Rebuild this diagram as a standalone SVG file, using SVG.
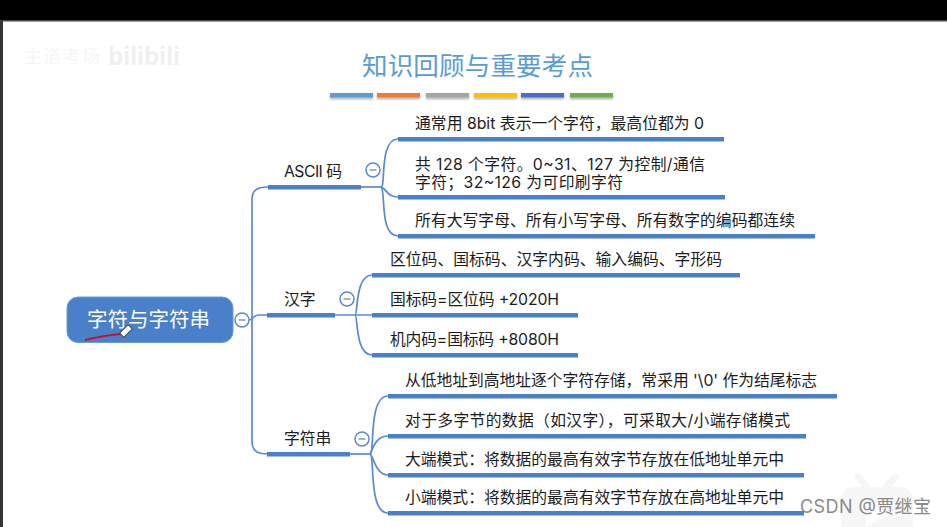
<svg xmlns="http://www.w3.org/2000/svg" width="947" height="527" viewBox="0 0 947 527">
<defs>
<filter id="sh" x="-10%" y="-50%" width="120%" height="250%"><feDropShadow dx="0" dy="1.5" stdDeviation="1" flood-color="#000" flood-opacity="0.35"/></filter>
</defs>
<style>
text{font-family:"Inter","Noto Sans CJK SC","Liberation Sans",sans-serif;fill:#1c1c1c}
.leaf{font-size:15.800px}
.lab{font-size:15.800px}
.bar{fill:#4a7fc9}
.conn{fill:none;stroke:#5a8bd0;stroke-width:1.7}
.tog circle{fill:#fff;stroke:#5a8bd0;stroke-width:1.5}
.tog line{stroke:#8a9ab0;stroke-width:1.5}
.tb{filter:url(#sh)}
</style>
<rect width="947" height="527" fill="#fff"/>
<rect x="0" y="0" width="947" height="20" fill="#000"/>
<rect x="0" y="20" width="3" height="507" fill="#333"/>
<rect x="0" y="20" width="947" height="1.500" fill="#444"/>
<g id="watermark">
<text x="24" y="63" font-size="18" textLength="76" style="fill:#f6f6f6">主道考场</text>
<text x="108" y="65" font-size="26" font-weight="700" textLength="72" lengthAdjust="spacingAndGlyphs" style="fill:#f0f0f0;font-family:'Liberation Sans',sans-serif">bilibili</text>
<path d="M858 477 L866 486 M895 477 L887 486" stroke="#f6f6f6" stroke-width="7" stroke-linecap="round" fill="none"/>
<rect x="841" y="487" width="72" height="50" rx="13" fill="#f7f7f7"/>
<path d="M866 502 L888 514 L866 527 Z" fill="#fff"/>
</g>
<g id="title">
<text x="362" y="75" font-size="25.500" textLength="231" style="fill:#5b9bd5">知识回顾与重要考点</text>
<rect class="tb" x="330" y="93" width="43" height="4.500" fill="#5b9bd5"/>
<rect class="tb" x="377" y="93" width="43" height="4.500" fill="#ed7d31"/>
<rect class="tb" x="426" y="93" width="43" height="4.500" fill="#a5a5a5"/>
<rect class="tb" x="474" y="93" width="43" height="4.500" fill="#ffc000"/>
<rect class="tb" x="521" y="93" width="43" height="4.500" fill="#4472c4"/>
<rect class="tb" x="570" y="93" width="43" height="4.500" fill="#70ad47"/>
</g>
<g id="connectors">
<path class="conn" d="M249 320 C253 320 253 315 259 315 H267"/>
<path class="conn" d="M268 187 C256 187 252 191 252 200 V441 C252 450 256 454 268 454"/>
<path class="conn" d="M361 187 H381"/>
<path class="conn" d="M381 187 C386 187 379 139 398 139"/>
<path class="conn" d="M381 187 C388 190 387 197 398 197"/>
<path class="conn" d="M381 187 C386 190 379 236 398 236"/>
<path class="conn" d="M335 315 H372"/>
<path class="conn" d="M355 315 C358 315 355 275 372 275"/>
<path class="conn" d="M355 315 C358 315 355 355 372 355"/>
<path class="conn" d="M350 454 H370"/>
<path class="conn" d="M370 454 C375 454 368 396 388 396"/>
<path class="conn" d="M370 454 C373 448 376 436 388 436"/>
<path class="conn" d="M370 454 C374 458 376 475 388 475"/>
<path class="conn" d="M370 454 C375 454 368 513 388 513"/>
</g>
<g id="root">
<rect x="67" y="297" width="166" height="45.500" rx="11" fill="#4a7fc9" stroke="#6b9bdc" stroke-width="1"/>
<text x="87" y="327" font-size="20.500" textLength="123" style="fill:#fff">字符与字符串</text>
<path d="M85 340 C97 337 108 335 121 334" fill="none" stroke="#c5102a" stroke-width="2"/>
<g id="pencil" transform="translate(126 331) rotate(-45)"><rect x="-6" y="-3" width="12" height="6" rx="1" fill="#fff" stroke="#444" stroke-width="1"/></g>
<g class="tog"><circle cx="242" cy="320" r="7"/><line x1="238.500" y1="320" x2="245.500" y2="320"/></g>
</g>
<g id="ascii">
<text class="lab" x="284" y="177" textLength="58">ASCII 码</text>
<rect class="bar" x="268" y="185" width="93" height="4.500"/>
<g class="tog"><circle cx="373" cy="170" r="7"/><line x1="369.500" y1="170" x2="376.500" y2="170"/></g>
</g>
<g id="ascii-1">
<text class="leaf" x="415" y="129" textLength="289">通常用 8bit 表示一个字符，最高位都为 0</text>
<rect class="bar" x="398" y="137" width="326" height="4.500"/>
</g>
<g id="ascii-2">
<text class="leaf" x="415" y="170" textLength="290">共 128 个字符。0~31、127 为控制/通信</text>
<text class="leaf" x="415" y="188" textLength="208">字符；32~126 为可印刷字符</text>
<rect class="bar" x="398" y="195" width="327" height="4.500"/>
</g>
<g id="ascii-3">
<text class="leaf" x="415" y="226" textLength="380">所有大写字母、所有小写字母、所有数字的编码都连续</text>
<rect class="bar" x="398" y="234" width="417" height="4.500"/>
</g>
<g id="hanzi">
<text class="lab" x="284" y="305">汉字</text>
<rect class="bar" x="267" y="313" width="68" height="4.500"/>
<g class="tog"><circle cx="347" cy="299" r="7"/><line x1="343.500" y1="299" x2="350.500" y2="299"/></g>
</g>
<g id="hanzi-1">
<text class="leaf" x="390" y="265" textLength="332">区位码、国标码、汉字内码、输入编码、字形码</text>
<rect class="bar" x="372" y="273" width="368" height="4.500"/>
</g>
<g id="hanzi-2">
<text class="leaf" x="390" y="305" textLength="169">国标码=区位码 +2020H</text>
<rect class="bar" x="372" y="313" width="206" height="4.500"/>
</g>
<g id="hanzi-3">
<text class="leaf" x="390" y="345" textLength="169">机内码=国标码 +8080H</text>
<rect class="bar" x="372" y="353" width="206" height="4.500"/>
</g>
<g id="string">
<text class="lab" x="284" y="444">字符串</text>
<rect class="bar" x="267" y="452" width="83" height="4.500"/>
<g class="tog"><circle cx="362" cy="439" r="7"/><line x1="358.500" y1="439" x2="365.500" y2="439"/></g>
</g>
<g id="string-1">
<text class="leaf" x="405" y="386" textLength="412">从低地址到高地址逐个字符存储，常采用 '\0' 作为结尾标志</text>
<rect class="bar" x="388" y="394" width="449" height="4.500"/>
</g>
<g id="string-2">
<text class="leaf" x="405" y="426" textLength="385">对于多字节的数据（如汉字），可采取大/小端存储模式</text>
<rect class="bar" x="388" y="434" width="418" height="4.500"/>
</g>
<g id="string-3">
<text class="leaf" x="405" y="465" textLength="379">大端模式：将数据的最高有效字节存放在低地址单元中</text>
<rect class="bar" x="388" y="473" width="416" height="4.500"/>
</g>
<g id="string-4">
<text class="leaf" x="405" y="503" textLength="379">小端模式：将数据的最高有效字节存放在高地址单元中</text>
<rect class="bar" x="388" y="511" width="416" height="4.500"/>
</g>
<text x="800" y="513" font-size="18" textLength="131" style="fill:#8a8a8a">CSDN @贾继宝</text>
</svg>
